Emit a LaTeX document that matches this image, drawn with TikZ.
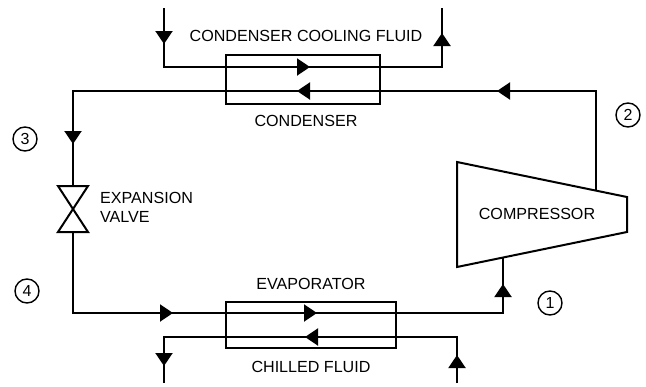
\documentclass[tikz,border=0pt]{standalone}
\usepackage{fontspec}
\setmainfont{Liberation Sans}
\usetikzlibrary{arrows.meta}
\tikzset{
  pipe/.style={line width=2pt,line cap=rect,line join=miter},
  hxbox/.style={draw,line width=2pt,inner sep=0pt,outer sep=0pt},
  flowtip/.style={line width=2pt,-{Triangle[length=13pt,width=17pt]}},
  statept/.style={draw,circle,line width=1.4pt,minimum size=24pt,inner sep=0pt,font=\fontsize{16}{19}\selectfont},
  lbl/.style={inner sep=0pt,font=\fontsize{16.1}{19}\selectfont}
}
\begin{document}
\begin{tikzpicture}[x=1pt,y=-1pt]
  \useasboundingbox (0,0) rectangle (646,386);
  % heat exchangers
  \node[hxbox,minimum width=154pt,minimum height=49pt] (condenser) at (303,79.5) {};
  \node[hxbox,minimum width=170pt,minimum height=46pt] (evaporator) at (311,325) {};
  % compressor
  \coordinate (c1) at (457,162);
  \coordinate (c2) at (627,197);
  \coordinate (c3) at (627,232);
  \coordinate (c4) at (457,267);
  \draw[pipe,line cap=butt] (c1) -- (c2) -- (c3) -- (c4) -- cycle;
  % expansion valve
  \coordinate (v1) at (58,186);
  \coordinate (v2) at (88,186);
  \coordinate (v3) at (58,232);
  \coordinate (v4) at (88,232);
  \coordinate (vtop) at (73,186);
  \coordinate (vbot) at (73,232);
  \draw[pipe,line cap=butt] (v1) -- (v2) -- (v3) -- (v4) -- cycle;
  % refrigerant loop
  \coordinate (outlet) at (596,190);
  \coordinate (inlet) at (503,258);
  \draw[pipe,line cap=butt] (outlet) |- (vtop |- 0,91) -- (vtop);
  \draw[pipe,line cap=butt] (vbot) |- (inlet |- 0,313) -- (inlet);
  % condenser cooling fluid
  \coordinate (cin) at (164,8);
  \coordinate (cout) at (442,8);
  \draw[pipe,line cap=butt] (cin) |- (cout |- 0,67) -- (cout);
  % chilled fluid
  \coordinate (ein) at (457,383);
  \coordinate (eout) at (164,383);
  \draw[pipe,line cap=butt] (ein) |- (eout |- 0,337) -- (eout);
  % flow arrows
  \foreach \xa/\ya/\xb/\yb in {
    164/31/164/44, 442/46/442/33, 297/67/310/67, 311/91/297/91,
    511/91/497/91, 73/131/73/144, 160/313/173/313, 304/313/317/313,
    503/297/503/284, 318/337/305/337, 164/353/164/366, 457/368/457/355}
    \draw[flowtip] (\xa,\ya) -- (\xb,\yb);
  % labels
  \node[lbl] (coolinglbl) at (306,36) {CONDENSER COOLING FLUID};
  \node[lbl] (condenserlbl) at (306,121) {CONDENSER};
  \node[lbl,anchor=west] (valvelbl1) at (100,198) {EXPANSION};
  \node[lbl,anchor=west] (valvelbl2) at (100,217) {VALVE};
  \node[lbl] (compressorlbl) at (537,214) {COMPRESSOR};
  \node[lbl] (evaporatorlbl) at (311,284) {EVAPORATOR};
  \node[lbl] (chilledlbl) at (311,367) {CHILLED FLUID};
  % state points
  \node[statept] (s1) at (550,303) {1};
  \node[statept] (s2) at (628,115) {2};
  \node[statept] (s3) at (25,139) {3};
  \node[statept] (s4) at (27,291) {4};
\end{tikzpicture}
\end{document}
